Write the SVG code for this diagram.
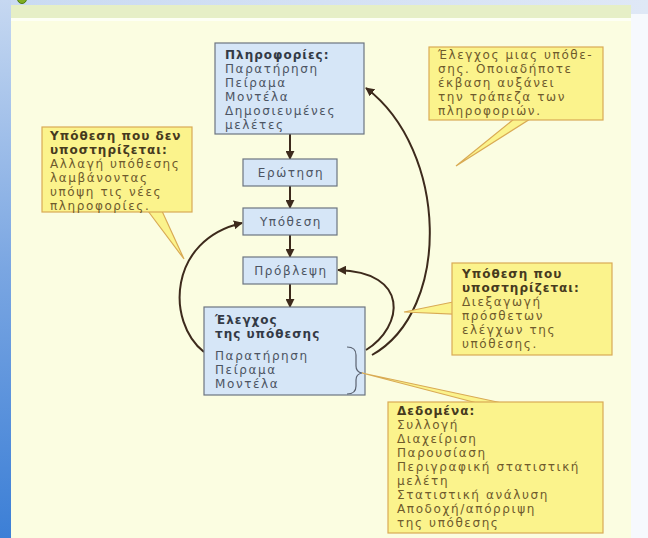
<svg xmlns="http://www.w3.org/2000/svg" width="648" height="538" viewBox="0 0 648 538">
  <defs>
    <linearGradient id="leftStrip" x1="0" y1="0" x2="0" y2="1">
      <stop offset="0" stop-color="#c6d8f1"/>
      <stop offset="0.5" stop-color="#7aa6e2"/>
      <stop offset="1" stop-color="#3c7fd6"/>
    </linearGradient>
    <linearGradient id="topBand" x1="0" y1="0" x2="1" y2="0">
      <stop offset="0" stop-color="#c9daf2"/>
      <stop offset="1" stop-color="#dfe8f6"/>
    </linearGradient>
    <marker id="ah" viewBox="0 0 10 10" refX="9" refY="5" markerWidth="9" markerHeight="9" markerUnits="userSpaceOnUse" orient="auto">
      <path d="M0,0 L10,5 L0,10 z" fill="#3d2a1c"/>
    </marker>
    <style>
      .blue { fill: #d6e6f7; stroke: #6c7580; stroke-width: 1.2; }
      .yel { fill: #fbf38c; stroke: #d9ab55; stroke-width: 1.2; }
      .t, .tb, .y, .yb { font-family: "DejaVu Sans", "Noto Sans", sans-serif; font-size: 12px; }
      .t { fill: #4c5462; letter-spacing: 1.6px; }
      .tb { font-weight: bold; fill: #333a46; letter-spacing: 1px; }
      .y { fill: #6e5a2c; letter-spacing: 1.6px; }
      .yb { font-weight: bold; fill: #463a1e; letter-spacing: 1px; }
      .c { text-anchor: middle; }
      .link { fill: none; stroke: #3d2a1c; stroke-width: 2; marker-end: url(#ah); }
      .brace { fill: none; stroke: #5a6270; stroke-width: 1.2; }
    </style>
  </defs>

  <!-- slide background -->
  <rect x="0" y="0" width="648" height="538" fill="#f6f9fd"/>
  <rect x="0" y="0" width="648" height="14" fill="url(#topBand)"/>
  <rect x="0" y="0" width="11" height="538" fill="url(#leftStrip)"/>
  <circle cx="22" cy="-1" r="4.5" fill="#7fae22" stroke="#4d7a10" stroke-width="1"/>
  <!-- picture panel -->
  <rect x="11" y="5" width="620" height="533" fill="#fbfde1"/>
  <rect x="11" y="5" width="620" height="13" fill="#e6efc6"/>
  <rect x="11" y="18" width="620" height="3" fill="#fdfff4"/>

  <!-- connectors -->
  <g id="connectors">
    <line class="link" x1="290" y1="134" x2="290" y2="159"/>
    <line class="link" x1="290" y1="186" x2="290" y2="208"/>
    <line class="link" x1="290" y1="235" x2="290" y2="257"/>
    <line class="link" x1="290" y1="284" x2="290" y2="307"/>
    <path class="link" d="M204,352 C166,322 168,240 242,223"/>
    <path class="link" d="M366,350 C404,326 410,272 338,270"/>
    <path class="link" d="M372,355 C452,310 448,150 366,88"/>
  </g>

  <!-- main boxes -->
  <g id="node-info">
    <rect class="blue" x="215" y="43" width="149" height="91"/>
    <text class="tb" x="225" y="59">Πληροφορίες:</text>
    <text class="t" x="225" y="73">Παρατήρηση</text>
    <text class="t" x="225" y="87">Πείραμα</text>
    <text class="t" x="225" y="101">Μοντέλα</text>
    <text class="t" x="225" y="115">Δημοσιευμένες</text>
    <text class="t" x="225" y="129">μελέτες</text>
  </g>
  <g id="node-question">
    <rect class="blue" x="243" y="159" width="94" height="27"/>
    <text class="t c" x="291" y="177">Ερώτηση</text>
  </g>
  <g id="node-hypothesis">
    <rect class="blue" x="243" y="208" width="94" height="27"/>
    <text class="t c" x="291" y="226">Υπόθεση</text>
  </g>
  <g id="node-prediction">
    <rect class="blue" x="243" y="257" width="94" height="27"/>
    <text class="t c" x="291" y="275">Πρόβλεψη</text>
  </g>
  <g id="node-test">
    <rect class="blue" x="204" y="307" width="161" height="88"/>
    <text class="tb" x="215" y="324">Έλεγχος</text>
    <text class="tb" x="215" y="338">της υπόθεσης</text>
    <text class="t" x="215" y="360">Παρατήρηση</text>
    <text class="t" x="215" y="374">Πείραμα</text>
    <text class="t" x="215" y="388">Μοντέλα</text>
    <path class="brace" d="M347,347 Q356,347 356,355 L356,366 Q356,372 362,373 Q356,374 356,380 L356,386 Q356,394 347,394"/>
  </g>

  <!-- callouts -->
  <g id="callout-any-outcome">
    <path class="yel" d="M514,119 L456,166 L530,119 z"/>
    <rect class="yel" x="429" y="47" width="174" height="73"/>
    <text class="y" x="438" y="59">Έλεγχος μιας υπόθε-</text>
    <text class="y" x="438" y="73">σης. Οποιαδήποτε</text>
    <text class="y" x="438" y="87">έκβαση αυξάνει</text>
    <text class="y" x="438" y="101">την τράπεζα των</text>
    <text class="y" x="438" y="115">πληροφοριών.</text>
  </g>
  <g id="callout-not-supported">
    <path class="yel" d="M148,211 L184,259 L162,211 z"/>
    <rect class="yel" x="42" y="127" width="150" height="85"/>
    <text class="yb" x="50" y="140">Υπόθεση που δεν</text>
    <text class="yb" x="50" y="154">υποστηρίζεται:</text>
    <text class="y" x="50" y="168">Αλλαγή υπόθεσης</text>
    <text class="y" x="50" y="182">λαμβάνοντας</text>
    <text class="y" x="50" y="196">υπόψη τις νέες</text>
    <text class="y" x="50" y="210">πληροφορίες.</text>
  </g>
  <g id="callout-supported">
    <path class="yel" d="M453,302 L404,312 L453,314 z"/>
    <rect class="yel" x="452" y="263" width="160" height="92"/>
    <text class="yb" x="462" y="278">Υπόθεση που</text>
    <text class="yb" x="462" y="292">υποστηρίζεται:</text>
    <text class="y" x="462" y="306">Διεξαγωγή</text>
    <text class="y" x="462" y="320">πρόσθετων</text>
    <text class="y" x="462" y="334">ελέγχων της</text>
    <text class="y" x="462" y="348">υπόθεσης.</text>
  </g>
  <g id="callout-data">
    <path class="yel" d="M477,403 L362,373 L502,403 z"/>
    <rect class="yel" x="388" y="402" width="215" height="131"/>
    <text class="yb" x="397" y="415">Δεδομένα:</text>
    <text class="y" x="397" y="429">Συλλογή</text>
    <text class="y" x="397" y="443">Διαχείριση</text>
    <text class="y" x="397" y="457">Παρουσίαση</text>
    <text class="y" x="397" y="471">Περιγραφική στατιστική</text>
    <text class="y" x="397" y="485">μελέτη</text>
    <text class="y" x="397" y="499">Στατιστική ανάλυση</text>
    <text class="y" x="397" y="513">Αποδοχή/απόρριψη</text>
    <text class="y" x="397" y="527">της υπόθεσης</text>
  </g>
</svg>
